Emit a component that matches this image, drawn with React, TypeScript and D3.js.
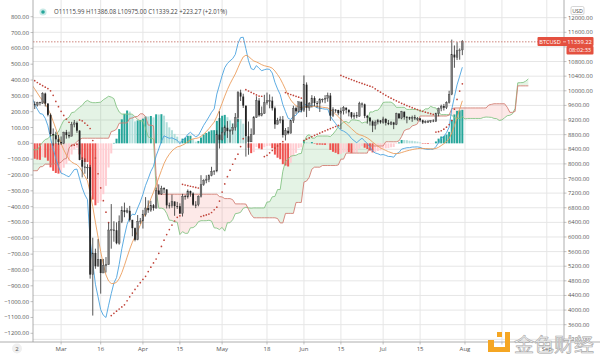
import React from 'react';
import * as d3 from 'd3';

// ---- Daily BTCUSD data (Dec 1 2019 .. Jul 31 2020); open = previous close ----
const closeDec19 = [7424, 7321, 7320, 7253, 7448, 7547, 7556, 7564, 7400, 7278, 7217, 7243, 7269, 7124, 7152, 6932, 6640, 7276, 7202, 7219, 7191, 7511, 7355, 7322, 7275, 7238, 7290, 7317, 7422, 7293, 7193];
const highDec19 = [7545, 7430, 7418, 7750, 7500, 7590, 7600, 7620, 7620, 7425, 7285, 7270, 7310, 7280, 7195, 7160, 6945, 7360, 7290, 7255, 7220, 7520, 7680, 7420, 7358, 7440, 7365, 7399, 7513, 7430, 7330];
const lowDec19 = [7300, 7233, 7270, 7200, 7150, 7365, 7480, 7470, 7310, 7170, 7150, 7110, 7235, 7100, 7085, 6880, 6560, 6435, 7040, 7120, 7120, 7170, 7300, 7200, 7150, 7170, 7090, 7285, 7300, 7230, 7150];

const closeJan = [7200, 6985, 7345, 7410, 7411, 7770, 8163, 8079, 7879, 8166, 8037, 8193, 8145, 8828, 8808, 8723, 8930, 8942, 8706, 8658, 8745, 8680, 8406, 8445, 8368, 8597, 8910, 9358, 9316, 9508, 9351];
const highJan = [7255, 7215, 7405, 7430, 7545, 7800, 8215, 8400, 8100, 8180, 8290, 8200, 8200, 8880, 8900, 8840, 9010, 9180, 9190, 8750, 8780, 8800, 8680, 8520, 8440, 8600, 8980, 9400, 9420, 9550, 9530];
const lowJan = [7150, 6925, 6915, 7275, 7320, 7410, 7730, 7870, 7760, 7750, 8000, 8020, 8085, 8110, 8620, 8610, 8670, 8900, 8470, 8520, 8560, 8640, 8300, 8250, 8270, 8300, 8570, 8880, 9280, 9210, 9250];

const closeFeb = [9393, 9344, 9293, 9180, 9613, 9729, 9796, 9865, 10116, 9856, 10208, 10326, 10214, 10312, 9889, 9934, 9690, 10141, 9633, 9608, 9686, 9663, 9924, 9650, 9342, 8820, 8784, 8672, 8599];
const highFeb = [9450, 9470, 9590, 9330, 9650, 9820, 9860, 9950, 10130, 10160, 10300, 10420, 10490, 10360, 10340, 10050, 9960, 10250, 10190, 9710, 9700, 9700, 9960, 9950, 9660, 9380, 8970, 8880, 8790];
const lowFeb = [9300, 9240, 9200, 9100, 9170, 9550, 9720, 9720, 9860, 9800, 9750, 10190, 10050, 10150, 9840, 9540, 9470, 9640, 9530, 9500, 9570, 9600, 9640, 9570, 9300, 8750, 8500, 8550, 8520];

const closeMar = [8562, 8869, 8787, 8755, 9078, 9122, 8909, 8108, 7923, 7909, 7911, 4970, 5563, 5200, 5392, 5014, 5225, 5238, 6191, 6198, 6185, 5830, 6416, 6734, 6681, 6716, 6469, 6242, 5922, 6429, 6438];
const highMar = [8750, 8880, 8930, 8880, 9150, 9200, 9160, 8920, 8180, 8150, 7990, 7970, 5980, 5680, 5940, 5370, 5400, 5450, 6390, 6900, 6430, 6400, 6590, 6840, 6940, 6790, 6850, 6290, 6260, 6600, 6520];
const lowMar = [8520, 8540, 8690, 8700, 8770, 9000, 8850, 8100, 7630, 7730, 7590, 4860, 3850, 5130, 5200, 4450, 5050, 5030, 5240, 5680, 5870, 5800, 5790, 6380, 6540, 6650, 6420, 6020, 5880, 5910, 6360];

const closeApr = [6606, 6793, 6733, 6868, 6791, 7271, 7176, 7335, 7302, 6865, 6859, 6971, 6845, 6842, 6642, 7116, 7096, 7257, 7189, 6882, 6880, 7117, 7429, 7550, 7569, 7679, 7795, 7807, 8801, 8658];
const highApr = [6740, 7090, 7000, 6990, 6900, 7350, 7440, 7400, 7360, 7300, 6940, 7160, 6950, 6960, 6920, 7180, 7150, 7300, 7270, 7220, 6980, 7140, 7690, 7580, 7690, 7710, 7920, 7820, 8920, 9440];
const lowApr = [6230, 6560, 6660, 6690, 6720, 6780, 7150, 7150, 7200, 6780, 6780, 6800, 6580, 6770, 6630, 6560, 7020, 7050, 7100, 6850, 6790, 6840, 7080, 7400, 7470, 7500, 7660, 7700, 7770, 8420];

const closeMay = [8864, 8988, 8897, 8912, 9003, 9268, 9951, 9842, 9593, 8756, 8601, 8804, 9269, 9733, 9328, 9377, 9670, 9726, 9729, 9522, 9081, 9182, 9209, 8790, 8906, 8835, 9181, 9525, 9439, 9700, 9461];
const highMay = [9000, 9050, 9170, 8950, 9100, 9390, 9990, 10030, 9920, 9580, 9160, 8970, 9310, 9850, 9800, 9570, 9890, 9950, 9900, 9840, 9570, 9260, 9300, 9310, 8980, 9010, 9200, 9590, 9570, 9700, 9700];
const lowMay = [8640, 8780, 8710, 8580, 8800, 8910, 9150, 9720, 9530, 8200, 8250, 8610, 8820, 9260, 9290, 9300, 9370, 9620, 9520, 9460, 8960, 9080, 9110, 8720, 8640, 8800, 8840, 9120, 9370, 9400, 9410];

const closeJun = [10167, 9529, 9656, 9800, 9665, 9653, 9758, 9771, 9795, 9870, 9321, 9480, 9475, 9386, 9450, 9538, 9480, 9411, 9288, 9332, 9303, 9648, 9629, 9313, 9264, 9162, 9045, 9143, 9190, 9137];
const highJun = [10420, 10230, 9690, 9880, 9850, 9720, 9800, 9790, 9880, 9950, 9940, 9550, 9500, 9480, 9540, 9580, 9540, 9490, 9420, 9400, 9420, 9700, 9680, 9650, 9340, 9280, 9190, 9190, 9230, 9200];
const lowJun = [9420, 9280, 9450, 9540, 9580, 9540, 9420, 9680, 9660, 9700, 9180, 9280, 9400, 9330, 8950, 9350, 9380, 9300, 9240, 9230, 9250, 9290, 9540, 9250, 9100, 9050, 8870, 8940, 9080, 9100];

const closeJul = [9228, 9123, 9087, 9132, 9073, 9375, 9252, 9428, 9277, 9278, 9240, 9276, 9243, 9243, 9192, 9132, 9151, 9159, 9185, 9164, 9374, 9525, 9581, 9536, 9677, 9905, 10990, 10912, 11100, 11115.99, 11339.22];
const highJul = [9290, 9250, 9200, 9170, 9150, 9400, 9390, 9450, 9430, 9310, 9290, 9320, 9340, 9280, 9260, 9210, 9190, 9200, 9200, 9220, 9400, 9540, 9620, 9640, 9710, 10000, 11400, 11240, 11330, 11160, 11386.08];
const lowJul = [9100, 9050, 9060, 9060, 8950, 9060, 9230, 9220, 9210, 9110, 9200, 9150, 9200, 9180, 9150, 9090, 9110, 9120, 9120, 9140, 9150, 9300, 9440, 9460, 9500, 9650, 9880, 10630, 10840, 10850, 10975];

const firstOpen = 7540;
const headerText = 'O11115.99 H11386.08 L10975.00 C11339.22 +223.27 (+2.01%)';
const lastPrice = 11339.22;

const leftTicks = [800, 700, 600, 500, 400, 300, 200, 100, 0, -100, -200, -300, -400, -500, -600, -700, -800, -900, -1000, -1100, -1200];
const rightTicks = [12000, 11600, 11200, 10800, 10400, 10000, 9600, 9200, 8800, 8400, 8000, 7600, 7200, 6800, 6400, 6000, 5600, 5200, 4800, 4400, 4000, 3600, 3200];
// labels hidden behind the price tag in the reference
const hiddenRightLabels = [11200];
const timeTicks: [number, number, string][] = [
  [2, 1, 'Mar'], [2, 16, '16'], [3, 1, 'Apr'], [3, 15, '15'], [4, 1, 'May'], [4, 18, '18'],
  [5, 1, 'Jun'], [5, 15, '15'], [6, 1, 'Jul'], [6, 15, '15'], [7, 1, 'Aug'], [7, 15, '15'], [8, 1, 'Sep'],
];

// ---- assembled series ----
const CLOSE = [...closeDec19, ...closeJan, ...closeFeb, ...closeMar, ...closeApr, ...closeMay, ...closeJun, ...closeJul];
const HIGH0 = [...highDec19, ...highJan, ...highFeb, ...highMar, ...highApr, ...highMay, ...highJun, ...highJul];
const LOW0 = [...lowDec19, ...lowJan, ...lowFeb, ...lowMar, ...lowApr, ...lowMay, ...lowJun, ...lowJul];
const N = CLOSE.length;
const OPEN = CLOSE.map((c, i) => (i === 0 ? firstOpen : CLOSE[i - 1]));
const HIGH = HIGH0.map((h, i) => Math.max(h, OPEN[i], CLOSE[i]));
const LOW = LOW0.map((l, i) => Math.min(l, OPEN[i], CLOSE[i]));

const START = Date.UTC(2019, 11, 1);
const DAY = 86400000;
const dateAt = (i: number) => new Date(START + i * DAY);

// ---- indicators ----
function ema(src: number[], n: number) {
  const a = 2 / (n + 1);
  const out: number[] = [];
  src.forEach((v, i) => out.push(i === 0 ? v : a * v + (1 - a) * out[i - 1]));
  return out;
}
const ema12 = ema(CLOSE, 12);
const ema26 = ema(CLOSE, 26);
const MACD = ema12.map((v, i) => v - ema26[i]);
const SIGNAL = ema(MACD, 9);
const HIST = MACD.map((v, i) => v - SIGNAL[i]);

function mid(n: number, i: number) {
  const s = Math.max(0, i - n + 1);
  const hh = d3.max(HIGH.slice(s, i + 1)) as number;
  const ll = d3.min(LOW.slice(s, i + 1)) as number;
  return (hh + ll) / 2;
}
const SPAN_A = CLOSE.map((_, i) => (mid(9, i) + mid(26, i)) / 2);
const SPAN_B = CLOSE.map((_, i) => mid(52, i));
const SHIFT = 25;

const SAR: number[] = [NaN];
(() => {
  let up = true, s = LOW[0], ep = HIGH[0], af = 0.02;
  for (let i = 1; i < N; i++) {
    s = s + af * (ep - s);
    if (up) {
      s = Math.min(s, LOW[i - 1], LOW[Math.max(0, i - 2)]);
      if (LOW[i] < s) { up = false; s = ep; ep = LOW[i]; af = 0.02; }
      else if (HIGH[i] > ep) { ep = HIGH[i]; af = Math.min(af + 0.02, 0.2); }
    } else {
      s = Math.max(s, HIGH[i - 1], HIGH[Math.max(0, i - 2)]);
      if (HIGH[i] > s) { up = true; s = ep; ep = HIGH[i]; af = 0.02; }
      else if (LOW[i] < ep) { ep = LOW[i]; af = Math.min(af + 0.02, 0.2); }
    }
    SAR.push(s);
  }
})();

// ---- layout ----
const W = 600, H = 359;
const PL = 33, PR = 564, PB = 342;
const FIRST = 79; // first drawn bar index (Feb 18)

const x = d3.scaleUtc()
  .domain([new Date(Date.UTC(2020, 2, 1)), new Date(Date.UTC(2020, 8, 1))])
  .range([61.1, 546.8]);
const xOf = (i: number) => x(dateAt(i));
const yP = d3.scaleLinear().domain([3600, 11600]).range([324.7, 32.3]);
const yM = d3.scaleLinear().domain([-1200, 800]).range([333.3, 16.7]);

const FONT = '"Open Sans", "DejaVu Sans", sans-serif';

export default function App() {
  const idx = d3.range(FIRST, N);
  const cloudIdx = d3.range(FIRST - SHIFT, N);
  const fmt = d3.format('.2f');

  const macdLine = d3.line<number>().x((i) => xOf(i)).y((i) => yM(MACD[i]));
  const sigLine = d3.line<number>().x((i) => xOf(i)).y((i) => yM(SIGNAL[i]));
  const aLine = d3.line<number>().x((i) => xOf(i + SHIFT)).y((i) => yP(SPAN_A[i]));
  const bLine = d3.line<number>().x((i) => xOf(i + SHIFT)).y((i) => yP(SPAN_B[i]));
  const greenArea = d3.area<number>().x((i) => xOf(i + SHIFT))
    .y0((i) => yP(SPAN_B[i])).y1((i) => yP(Math.max(SPAN_A[i], SPAN_B[i])));
  const redArea = d3.area<number>().x((i) => xOf(i + SHIFT))
    .y0((i) => yP(SPAN_A[i])).y1((i) => yP(Math.max(SPAN_A[i], SPAN_B[i])));

  const histColor = (i: number) => {
    const h = HIST[i], p = HIST[i - 1];
    if (h >= 0) return p < h ? '#26a69a' : '#b2dfdb';
    return p < h ? '#ffcdd2' : '#ef5350';
  };

  const yLast = yP(lastPrice);

  return (
    <svg width={W} height={H} style={{ position: 'fixed', left: 0, top: 0, background: '#fff' }}
      fontFamily={FONT}>
      <defs>
        <clipPath id="plot"><rect x={PL} y={0} width={PR - PL} height={PB} /></clipPath>
      </defs>
      <rect x={0} y={0} width={W} height={H} fill="#fff" />

      {/* grid */}
      <g stroke="#e6e6e6" strokeWidth={1}>
        {rightTicks.map((t) => (
          <line key={'h' + t} x1={PL} x2={PR} y1={yP(t)} y2={yP(t)} />
        ))}
        {timeTicks.map(([m, d]) => {
          const xx = x(new Date(Date.UTC(2020, m, d)));
          return <line key={'v' + m + d} x1={xx} x2={xx} y1={0} y2={PB} />;
        })}
      </g>

      <g clipPath="url(#plot)">
        {/* cloud */}
        <path d={greenArea(cloudIdx) || ''} fill="rgba(76,175,80,0.15)" />
        <path d={redArea(cloudIdx) || ''} fill="rgba(239,83,80,0.13)" />

        {/* MACD histogram */}
        {idx.map((i) => {
          const y0 = yM(0), y1 = yM(HIST[i]);
          return (
            <rect key={'hb' + i} x={xOf(i) - 1} width={2}
              y={Math.min(y0, y1)} height={Math.max(0.5, Math.abs(y1 - y0))} fill={histColor(i)} />
          );
        })}

        <path d={aLine(cloudIdx) || ''} fill="none" stroke="#86c486" strokeWidth={0.9} />
        <path d={bLine(cloudIdx) || ''} fill="none" stroke="#d27f74" strokeWidth={0.9} />

        <path d={macdLine(idx) || ''} fill="none" stroke="#4ba3df" strokeWidth={0.9} />
        <path d={sigLine(idx) || ''} fill="none" stroke="#eb9d5c" strokeWidth={0.9} />

        {/* parabolic SAR */}
        {idx.map((i) => (
          <circle key={'s' + i} cx={xOf(i)} cy={yP(SAR[i])} r={0.85} fill="#c0443a" />
        ))}

        {/* candles */}
        {idx.map((i) => {
          const xx = xOf(i);
          const up = CLOSE[i] >= OPEN[i];
          const top = yP(Math.max(OPEN[i], CLOSE[i]));
          const bot = yP(Math.min(OPEN[i], CLOSE[i]));
          return (
            <g key={'c' + i}>
              <line x1={xx} x2={xx} y1={yP(HIGH[i])} y2={yP(LOW[i])} stroke="#2b2b2b" strokeWidth={0.8} />
              <rect x={xx - 0.9} width={1.8} y={top} height={Math.max(0.8, bot - top)}
                fill={up ? '#7a7a7a' : '#222'} stroke={up ? '#333' : 'none'} strokeWidth={0.3} />
            </g>
          );
        })}

        {/* last price line */}
        <line x1={PL} x2={PR} y1={yLast} y2={yLast} stroke="#c2665a" strokeWidth={0.8} strokeDasharray="1.5 1.5" />
      </g>

      {/* axes */}
      <g stroke="#9a9a9a" strokeWidth={0.8}>
        <line x1={PL} x2={PL} y1={0} y2={PB} />
        <line x1={PR} x2={PR} y1={0} y2={PB} />
        <line x1={0} x2={W} y1={PB} y2={PB} />
      </g>

      {/* left scale */}
      <g fontSize={5.8} fill="#555" textAnchor="end">
        {leftTicks.map((t) => (
          <g key={'l' + t}>
            <line x1={30.5} x2={PL} y1={yM(t)} y2={yM(t)} stroke="#9a9a9a" strokeWidth={0.6} />
            <text x={29} y={yM(t) + 2}>{fmt(t)}</text>
          </g>
        ))}
      </g>

      {/* right scale */}
      <g fontSize={5.8} fill="#555">
        {rightTicks.map((t) => (
          <g key={'r' + t}>
            <line x1={PR} x2={PR + 2.5} y1={yP(t)} y2={yP(t)} stroke="#9a9a9a" strokeWidth={0.6} />
            {hiddenRightLabels.includes(t) ? null : <text x={568} y={yP(t) + 2}>{fmt(t)}</text>}
          </g>
        ))}
      </g>

      {/* time scale */}
      <g fontSize={6} fill="#555" textAnchor="middle">
        {timeTicks.map(([m, d, lab]) => {
          const xx = x(new Date(Date.UTC(2020, m, d)));
          return (
            <g key={'t' + m + d}>
              <line x1={xx} x2={xx} y1={PB} y2={PB + 2.5} stroke="#9a9a9a" strokeWidth={0.6} />
              <text x={xx} y={351}>{lab}</text>
            </g>
          );
        })}
      </g>

      {/* scale button */}
      <circle cx={17} cy={348.5} r={5} fill="#efefef" />
      <text x={17} y={350.6} fontSize={6} fill="#555" textAnchor="middle">2</text>

      {/* header legend */}
      <circle cx={43} cy={12} r={3.6} fill="rgba(38,166,154,0.25)" />
      <circle cx={43} cy={12} r={1.8} fill="#26a69a" />
      <text x={54} y={14.2} fontSize={6.2} fill="#444" textLength={173} lengthAdjust="spacingAndGlyphs">{headerText}</text>

      {/* USD label */}
      <rect x={571} y={6.5} width={13} height={8} rx={1.5} fill="#fff" stroke="#bbb" strokeWidth={0.6} />
      <text x={577.5} y={12.7} fontSize={5.3} fill="#444" textAnchor="middle">USD</text>

      {/* last price tag */}
      <rect x={537.5} y={yLast - 4.8} width={56} height={9} rx={1} fill="#e4503f" />
      <line x1={PR - 1} x2={PR + 2} y1={yLast} y2={yLast} stroke="#fff" strokeWidth={0.6} />
      <text x={550} y={yLast + 2} fontSize={5.6} fill="#fff" textAnchor="middle">BTCUSD</text>
      <text x={579.5} y={yLast + 2} fontSize={5.8} fill="#fff" textAnchor="middle">{fmt(lastPrice)}</text>
      <rect x={566.5} y={yLast + 4.2} width={27} height={8.5} rx={1} fill="#e4503f" />
      <text x={580} y={yLast + 10.6} fontSize={5.6} fill="#fff" textAnchor="middle">08:02:33</text>

      {/* watermark */}
      <g fill="#f5a623">
        <rect x={497} y={332} width={5} height={5} />
        <rect x={505} y={332} width={5} height={20} />
        <rect x={488} y={347} width={22} height={5} />
        <rect x={488} y={340} width={6} height={7} />
      </g>
      <text x={514} y={351.5} fontSize={19} fontFamily='"Noto Sans CJK SC", sans-serif'
        fill="#f2f2f2" stroke="#a9a9a9" strokeWidth={0.6} textLength={80} lengthAdjust="spacingAndGlyphs">金色财经</text>
    </svg>
  );
}
